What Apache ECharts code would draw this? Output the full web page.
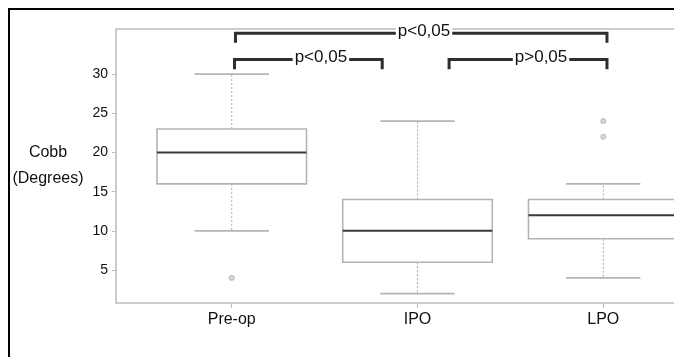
<!DOCTYPE html>
<html>
<head>
<meta charset="utf-8">
<script src="https://cdn.jsdelivr.net/npm/echarts@6/dist/echarts.min.js"></script>
<style>
html, body { margin: 0; padding: 0; background: #fff; overflow: hidden; }
#chart { width: 674px; height: 357px; }
</style>
</head>
<body>
<div id="chart"></div>
<script>
// groups on the x axis (placed at 1, 2, 3)
const categories = ['Pre-op', 'IPO', 'LPO']
const whiskerLow = [10, 2, 4]
const q1 = [16, 6, 9]
const medians = [20, 10, 12]
const q3 = [23, 14, 14]
const whiskerHigh = [30, 24, 16]
// [group index, value]
const outliers = [[0, 4], [2, 22], [2, 24]]
const yTicks = [5, 10, 15, 20, 25, 30]

// significance brackets (x in group units, y in degrees)
const bracketLabels = ['p<0,05', 'p>0,05', 'p<0,05']
const bracketStart = [1.015, 2.17, 1.02]
const bracketEnd = [1.81, 3.02, 3.02]
const bracketTop = [31.85, 31.85, 35.2]
const bracketLegEnd = [30.6, 30.6, 34.0]
const bracketLabelX = [1.48, 2.665, 2.035]

const boxData = categories.map((c, i) => [i + 1, whiskerLow[i], q1[i], medians[i], q3[i], whiskerHigh[i]])
const outlierData = outliers.map(o => [o[0] + 1, o[1]])
const bracketData = bracketStart.map((s, i) => [s, bracketEnd[i], bracketTop[i], bracketLegEnd[i], bracketLabelX[i]])

const myChart = echarts.init(document.getElementById('chart'))

function renderBox(params, api) {
    const x = api.value(0)
    const halfBox = 0.4025
    const halfCap = 0.2
    const cx = api.coord([x, 0])[0]
    const xl = api.coord([x - halfBox, 0])[0]
    const xr = api.coord([x + halfBox, 0])[0]
    const cl = api.coord([x - halfCap, 0])[0]
    const cr = api.coord([x + halfCap, 0])[0]
    const yLow = api.coord([x, api.value(1)])[1]
    const yQ1 = api.coord([x, api.value(2)])[1]
    const yMed = api.coord([x, api.value(3)])[1]
    const yQ3 = api.coord([x, api.value(4)])[1]
    const yHigh = api.coord([x, api.value(5)])[1]
    const whisker = { stroke: '#a8a8a8', lineWidth: 1, lineDash: [2, 2] }
    const cap = { stroke: '#b4b4b4', lineWidth: 1.6 }
    return {
        type: 'group',
        children: [
            { type: 'line', shape: { x1: cx, y1: yQ3, x2: cx, y2: yHigh }, style: whisker },
            { type: 'line', shape: { x1: cx, y1: yQ1, x2: cx, y2: yLow }, style: whisker },
            { type: 'line', shape: { x1: cl, y1: yHigh, x2: cr, y2: yHigh }, style: cap },
            { type: 'line', shape: { x1: cl, y1: yLow, x2: cr, y2: yLow }, style: cap },
            {
                type: 'rect',
                shape: { x: xl, y: yQ3, width: xr - xl, height: yQ1 - yQ3 },
                style: { fill: '#fff', stroke: '#b4b4b4', lineWidth: 1.6 }
            },
            { type: 'line', shape: { x1: xl, y1: yMed, x2: xr, y2: yMed }, style: { stroke: '#3a3a3a', lineWidth: 2 } }
        ]
    }
}

function renderBracket(params, api) {
    const i = params.dataIndex
    const p1 = api.coord([api.value(0), api.value(2)])
    const p2 = api.coord([api.value(1), api.value(2)])
    const legY = api.coord([api.value(0), api.value(3)])[1]
    const tx = api.coord([api.value(4), api.value(2)])[0]
    const style = { stroke: '#2e2e2e', lineWidth: 3, fill: null }
    return {
        type: 'group',
        children: [
            {
                type: 'polyline',
                shape: { points: [[p1[0], legY], [p1[0], p1[1]], [p2[0], p2[1]], [p2[0], legY]] },
                style: style
            },
            {
                type: 'text',
                x: tx,
                y: p1[1] - 2,
                style: {
                    text: bracketLabels[i],
                    fontFamily: 'Liberation Sans, Arial, sans-serif',
                    fontSize: 17,
                    fill: '#111',
                    align: 'center',
                    verticalAlign: 'middle',
                    backgroundColor: '#fff',
                    padding: [0, 2, 0, 2]
                }
            }
        ]
    }
}

let option = {
    backgroundColor: '#fff',
    animation: false,
    textStyle: { fontFamily: 'Liberation Sans, Arial, sans-serif' },
    // outer figure frame (left and top edges only)
    graphic: [{
        type: 'polyline',
        shape: { points: [[9, 360], [9, 9], [680, 9]] },
        style: { stroke: '#000', lineWidth: 2, fill: null },
        z: 10
    }],
    grid: {
        left: 116,
        right: -45,
        top: 29,
        bottom: 54,
        outerBoundsMode: 'none',
        containLabel: false,
        show: true,
        borderColor: '#bcbcbc',
        borderWidth: 1.5,
        backgroundColor: 'transparent'
    },
    xAxis: {
        type: 'value',
        min: 0.377,
        max: 3.623,
        axisLine: { show: false },
        splitLine: { show: false },
        axisTick: {
            show: true,
            customValues: [1, 2, 3],
            length: 5,
            lineStyle: { color: '#bcbcbc', width: 1 }
        },
        axisLabel: {
            customValues: [1, 2, 3],
            formatter: v => categories[Math.round(v) - 1],
            fontSize: 16,
            color: '#111',
            margin: 9
        }
    },
    yAxis: {
        type: 'value',
        min: 0.8,
        max: 35.75,
        name: 'Cobb\n(Degrees)',
        nameLocation: 'middle',
        nameRotate: 0,
        nameGap: 68,
        nameMoveOverlap: false,
        nameTextStyle: {
            fontSize: 16,
            color: '#111',
            align: 'center',
            verticalAlign: 'middle',
            lineHeight: 26,
            padding: [0, 0, 10, 0]
        },
        axisLine: { show: false },
        splitLine: { show: false },
        axisTick: {
            show: true,
            customValues: yTicks,
            length: 4,
            lineStyle: { color: '#bcbcbc', width: 1 }
        },
        axisLabel: {
            customValues: yTicks,
            fontSize: 14,
            color: '#111',
            margin: 8
        }
    },
    series: [
        {
            name: 'box',
            type: 'custom',
            renderItem: renderBox,
            encode: { x: 0, y: [1, 2, 3, 4, 5] },
            data: boxData,
            z: 2
        },
        {
            name: 'outliers',
            type: 'scatter',
            data: outlierData,
            symbol: 'circle',
            symbolSize: 5,
            itemStyle: { color: '#d0d0d0', borderColor: '#a8a8a8', borderWidth: 1 },
            z: 3
        },
        {
            name: 'brackets',
            type: 'custom',
            renderItem: renderBracket,
            encode: { x: [0, 1], y: [2, 3] },
            data: bracketData,
            z: 4
        }
    ]
}
myChart.setOption(option)
window.addEventListener('resize', function() {
    myChart.resize()
})
</script>
</body>
</html>
